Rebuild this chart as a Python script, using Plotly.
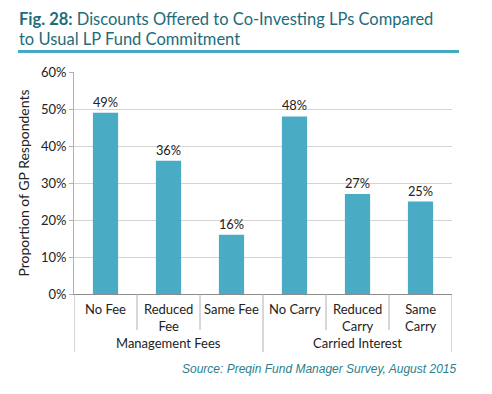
import plotly.graph_objects as go

categories = ["No Fee", "Reduced<br>Fee", "Same Fee", "No Carry", "Reduced<br>Carry", "Same<br>Carry"]
groups = ["Management Fees", "Carried Interest"]
group_sizes = [3, 3]
values = [49, 36, 16, 48, 27, 25]
y_ticks = [0, 10, 20, 30, 40, 50, 60]
title_lines = ["<b>Fig. 28:</b> Discounts Offered to Co-Investing LPs Compared",
               "to Usual LP Fund Commitment"]
source_text = "<i>Source: Preqin Fund Manager Survey, August 2015</i>"

BAR = "#4aabc4"
TEAL = "#1d6c7b"
FONT = "Lato, 'Noto Sans', sans-serif"

x_pos = list(range(len(categories)))

fig = go.Figure()
fig.add_trace(go.Bar(
    x=x_pos, y=values, width=0.4, marker=dict(color=BAR, line=dict(width=0)),
    text=[f"{v}%" for v in values], textposition="outside",
    textfont=dict(size=13, color="#222222", family=FONT),
    cliponaxis=False, hoverinfo="skip",
))

PH = 222.0
PW = 378.0

def py(pix):
    return (294 - pix) / PH

def px(pix):
    return (pix - 74) / PW

annotations = []
shapes = []
for i, c in enumerate(categories):
    annotations.append(dict(x=i, y=py(299), xref="x", yref="paper", text=c, showarrow=False,
                            xanchor="center", yanchor="top",
                            font=dict(size=13, color="#222222", family=FONT)))
start = 0
bounds = [-0.5]
for g, n in zip(groups, group_sizes):
    mid = start + (n - 1) / 2
    annotations.append(dict(x=mid, y=py(343), xref="x", yref="paper", text=g, showarrow=False,
                            xanchor="center", yanchor="middle",
                            font=dict(size=13, color="#222222", family=FONT)))
    for k in range(1, n):
        shapes.append(dict(type="line", xref="x", yref="paper", x0=start + k - 0.5, x1=start + k - 0.5,
                           y0=0, y1=py(330), line=dict(color="#b0b0b0", width=1)))
    start += n
    bounds.append(start - 0.5)
for b in bounds:
    shapes.append(dict(type="line", xref="x", yref="paper", x0=b, x1=b, y0=0, y1=py(352),
                       line=dict(color="#b0b0b0", width=1)))

for line_text, yc in zip(title_lines, [19, 38.5]):
    annotations.append(dict(x=px(17), y=py(yc), xref="paper", yref="paper", text=line_text,
                            showarrow=False, xanchor="left", yanchor="middle", align="left",
                            font=dict(size=16.5, color=TEAL, family=FONT)))
shapes.append(dict(type="line", xref="paper", yref="paper", x0=px(18), x1=px(459),
                   y0=py(51.5), y1=py(51.5), line=dict(color="#45a9c2", width=3)))
annotations.append(dict(x=px(458), y=py(369), xref="paper", yref="paper",
                        text=source_text,
                        showarrow=False, xanchor="right", yanchor="middle",
                        font=dict(size=12, color="#2a7f8e", family="'Liberation Sans', Arial, sans-serif")))

fig.update_layout(
    width=492, height=394,
    margin=dict(l=74, r=40, t=72, b=100, autoexpand=False),
    paper_bgcolor="white", plot_bgcolor="white",
    showlegend=False,
    font=dict(family=FONT, color="#222222"),
    xaxis=dict(range=[-0.5, len(categories) - 0.5], showticklabels=False, showgrid=False,
               zeroline=False, showline=True, linecolor="#8c8c8c", linewidth=1, ticks="",
               automargin=False),
    yaxis=dict(range=[0, 60], tickvals=y_ticks, ticktext=[f"{t}%" for t in y_ticks],
               showgrid=True, gridcolor="#d4d4d4", gridwidth=1, zeroline=False,
               showline=True, linecolor="#b0b0b0", linewidth=1,
               ticks="outside", ticklen=4, tickcolor="#b0b0b0", automargin=False,
               tickfont=dict(size=13, color="#222222", family=FONT),
               title=dict(text="Proportion of GP Respondents", standoff=8,
                          font=dict(size=14, color="#222222", family=FONT))),
    annotations=annotations, shapes=shapes,
)

fig.write_html("out.html", config={"displayModeBar": False},
               post_script="document.body.style.margin='0';")
